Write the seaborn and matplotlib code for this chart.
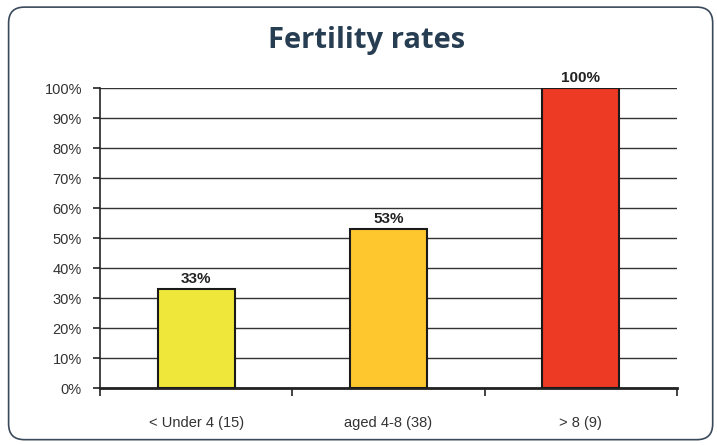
import matplotlib
matplotlib.use("Agg")
from matplotlib import pyplot as plt
from matplotlib.patches import FancyBboxPatch
from matplotlib.ticker import FixedLocator, PercentFormatter
import numpy as np
import pandas as pd
import seaborn as sns

categories = ["< Under 4 (15)", "aged 4-8 (38)", "> 8 (9)"]
rates = [33, 53, 100]
bar_colors = ["#EFE83A", "#FFC72E", "#EC3A24"]
y_ticks = [0, 10, 20, 30, 40, 50, 60, 70, 80, 90, 100]

df = pd.DataFrame({"group": categories, "rate": rates})

sns.set_style("white")
plt.rcParams["font.family"] = ["Liberation Sans", "DejaVu Sans"]

fig = plt.figure(figsize=(7.17, 4.45), dpi=100)
ax = fig.add_axes([0.1395, 0.128, 0.8045, 0.674])

# rounded frame around the whole chart
frame = FancyBboxPatch((0.012, 0.012), 0.982, 0.972, boxstyle="round,pad=0,rounding_size=0.022",
                       transform=fig.transFigure, facecolor="none", edgecolor="#3b4a5a",
                       linewidth=1.2, mutation_aspect=717 / 445)
fig.patches.append(frame)

fig.text(0.511, 0.91, "Fertility rates", ha="center", va="center", fontsize=21,
         fontweight="bold", color="#263d52", family=["Open Sans", "DejaVu Sans"])

sns.barplot(data=df, x="group", y="rate", hue="group", palette=bar_colors, legend=False,
            width=0.4, edgecolor="#1a1a1a", linewidth=1.5, saturation=1, ax=ax, zorder=3)

for i, v in enumerate(rates):
    ax.text(i, v + 1.0, f"{v}%", ha="center", va="bottom", fontsize=11,
            fontweight="bold", color="#222222")

ax.set_ylim(0, 100)
ax.set_xlim(-0.5, 2.5)
ax.yaxis.set_major_locator(FixedLocator(y_ticks))
ax.yaxis.set_major_formatter(PercentFormatter(decimals=0))
ax.grid(axis="y", color="#333333", linewidth=1.0, zorder=0)
ax.set_axisbelow(True)

# category boundaries as major ticks, labels on minor ticks
ax.set_xticks([-0.5, 0.5, 1.5, 2.5])
ax.set_xticklabels([])
ax.set_xticks([0, 1, 2], minor=True)
ax.set_xticklabels(categories, minor=True)
ax.tick_params(axis="x", which="major", bottom=True, direction="out", length=6, width=1.2,
               color="#222222")
ax.tick_params(axis="x", which="minor", bottom=True, length=0, pad=20, labelsize=10.5,
               labelcolor="#333333")
ax.tick_params(axis="y", left=True, direction="out", length=5, width=1.2, color="#222222",
               labelsize=10.5, labelcolor="#333333", pad=8)

ax.set_xlabel("")
ax.set_ylabel("")
for side in ["top", "right"]:
    ax.spines[side].set_visible(False)
ax.spines["left"].set_color("#222222")
ax.spines["left"].set_linewidth(1.2)
ax.spines["bottom"].set_color("#222222")
ax.spines["bottom"].set_linewidth(2)

fig.savefig("out.png", dpi=100)
